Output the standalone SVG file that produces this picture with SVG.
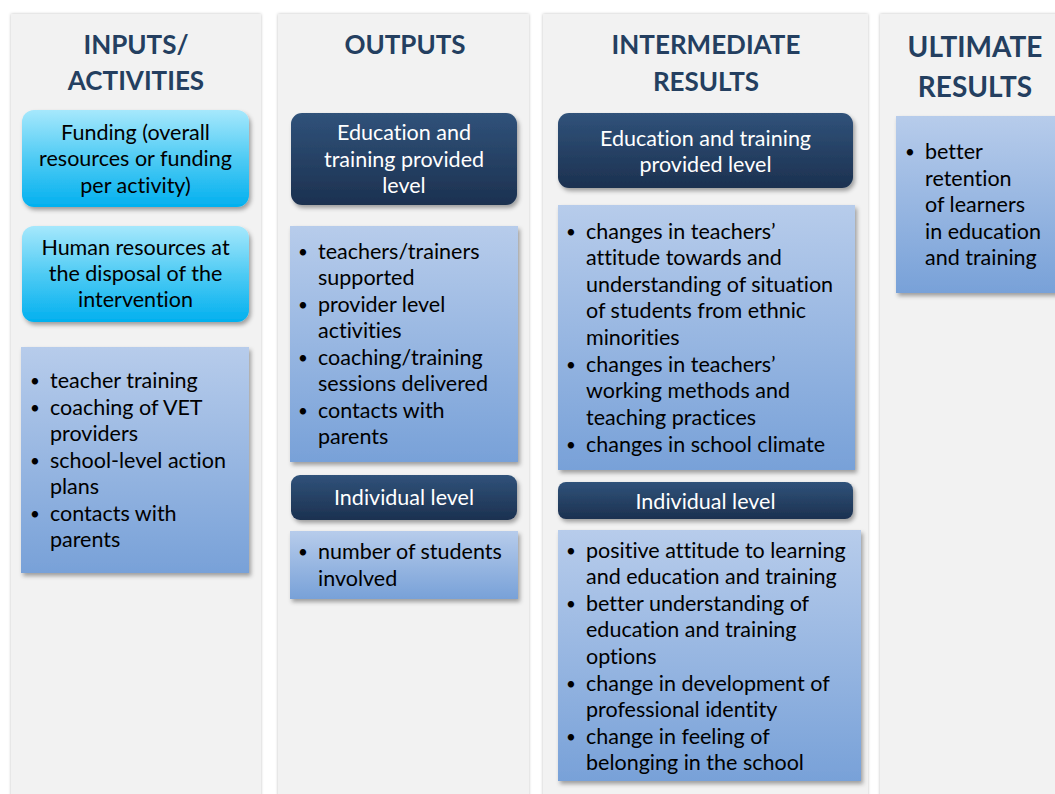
<svg xmlns="http://www.w3.org/2000/svg" width="1055" height="794" viewBox="0 0 1055 794">
<defs>
<linearGradient id="gBullet" x1="0" y1="0" x2="0" y2="1"><stop offset="0" stop-color="#b7cceb"/><stop offset="1" stop-color="#78a1d8"/></linearGradient>
<linearGradient id="gDark" x1="0" y1="0" x2="0" y2="1"><stop offset="0" stop-color="#30527a"/><stop offset="1" stop-color="#1c3150"/></linearGradient>
<linearGradient id="gCyan" x1="0" y1="0" x2="0" y2="1"><stop offset="0" stop-color="#a6e8fc"/><stop offset="0.5" stop-color="#4fcbf4"/><stop offset="1" stop-color="#02b0ef"/></linearGradient>
<filter id="sh" x="-10%" y="-10%" width="130%" height="130%"><feDropShadow dx="2" dy="3" stdDeviation="2" flood-color="#000" flood-opacity="0.35"/></filter>
<filter id="colsh" x="-5%" y="-5%" width="110%" height="110%"><feDropShadow dx="0" dy="0" stdDeviation="1.5" flood-color="#000" flood-opacity="0.25"/></filter>
</defs>
<style>
text{font-variant-ligatures:none}
.col{fill:#f2f2f2;filter:url(#colsh)}
.hd{font-family:Lato,"Liberation Sans",sans-serif;font-weight:bold;font-size:26px;fill:#243f60;text-anchor:middle}
.bl{fill:url(#gBullet);filter:url(#sh)}
.dk{fill:url(#gDark);filter:url(#sh)}
.cy{fill:url(#gCyan);filter:url(#sh)}
.t{font-family:Lato,"Liberation Sans",sans-serif;font-size:21.5px;fill:#000}
.b{font-size:17px}
.w{font-family:Lato,"Liberation Sans",sans-serif;font-size:21.5px;fill:#fff;text-anchor:middle}
.c{font-family:Lato,"Liberation Sans",sans-serif;font-size:21.5px;fill:#000;text-anchor:middle}
</style>
<rect width="1055" height="794" fill="#fff"/>
<g id="columns">
<rect class="col" x="11" y="14" width="250" height="790"/>
<rect class="col" x="278" y="14" width="251" height="790"/>
<rect class="col" x="543" y="14" width="325" height="790"/>
<rect class="col" x="880" y="14" width="185" height="790"/>
</g>
<g id="h-inputs"><text class="hd" x="136" y="54">INPUTS/</text><text class="hd" x="136" y="90">ACTIVITIES</text></g>
<g id="h-outputs"><text class="hd" x="405" y="54">OUTPUTS</text></g>
<g id="h-intermediate"><text class="hd" x="706" y="54">INTERMEDIATE</text><text class="hd" x="706" y="91">RESULTS</text></g>
<g id="h-ultimate"><text class="hd" x="975" y="57" style="font-size:28px">ULTIMATE</text><text class="hd" x="975" y="97" style="font-size:28px">RESULTS</text></g>

<g id="funding">
<rect class="cy" x="22" y="110" width="227" height="97" rx="12"/>
<text class="c" x="135.5" y="140">Funding (overall</text>
<text class="c" x="135.5" y="166">resources or funding</text>
<text class="c" x="135.5" y="193">per activity)</text>
</g>
<g id="human">
<rect class="cy" x="22" y="226" width="227" height="96" rx="12"/>
<text class="c" x="135.5" y="255">Human resources at</text>
<text class="c" x="135.5" y="281">the disposal of the</text>
<text class="c" x="135.5" y="307">intervention</text>
</g>
<g id="activities">
<rect class="bl" x="21" y="347" width="228" height="226"/>
<g class="t">
<text class="b" x="30" y="387">•</text><text x="50" y="388">teacher training</text>
<text class="b" x="30" y="414">•</text><text x="50" y="415">coaching of VET</text>
<text x="50" y="441">providers</text>
<text class="b" x="30" y="467">•</text><text x="50" y="468">school-level action</text>
<text x="50" y="494">plans</text>
<text class="b" x="30" y="520">•</text><text x="50" y="521">contacts with</text>
<text x="50" y="547">parents</text>
</g>
</g>

<g id="out-provided">
<rect class="dk" x="291" y="113" width="226" height="92" rx="11"/>
<text class="w" x="404" y="140">Education and</text>
<text class="w" x="404" y="167">training provided</text>
<text class="w" x="404" y="193">level</text>
</g>
<g id="out-provided-list">
<rect class="bl" x="290" y="226" width="228" height="236"/>
<g class="t">
<text class="b" x="298" y="258">•</text><text x="318" y="259">teachers/trainers</text>
<text x="318" y="285">supported</text>
<text class="b" x="298" y="311">•</text><text x="318" y="312">provider level</text>
<text x="318" y="338">activities</text>
<text class="b" x="298" y="364">•</text><text x="318" y="365">coaching/training</text>
<text x="318" y="391">sessions delivered</text>
<text class="b" x="298" y="417">•</text><text x="318" y="418">contacts with</text>
<text x="318" y="444">parents</text>
</g>
</g>
<g id="out-individual">
<rect class="dk" x="291" y="475" width="226" height="45" rx="9"/>
<text class="w" x="404" y="505">Individual level</text>
</g>
<g id="out-individual-list">
<rect class="bl" x="290" y="531" width="228" height="68"/>
<g class="t">
<text class="b" x="298" y="558">•</text><text x="318" y="559">number of students</text>
<text x="318" y="586">involved</text>
</g>
</g>

<g id="int-provided">
<rect class="dk" x="558" y="113" width="295" height="75" rx="11"/>
<text class="w" x="705.5" y="146">Education and training</text>
<text class="w" x="705.5" y="172">provided level</text>
</g>
<g id="int-provided-list">
<rect class="bl" x="558" y="205" width="297" height="265"/>
<g class="t">
<text class="b" x="566" y="238">•</text><text x="586" y="239">changes in teachers’</text>
<text x="586" y="265">attitude towards and</text>
<text x="586" y="292">understanding of situation</text>
<text x="586" y="318">of students from ethnic</text>
<text x="586" y="345">minorities</text>
<text class="b" x="566" y="371">•</text><text x="586" y="372">changes in teachers’</text>
<text x="586" y="398">working methods and</text>
<text x="586" y="425">teaching practices</text>
<text class="b" x="566" y="451">•</text><text x="586" y="452">changes in school climate</text>
</g>
</g>
<g id="int-individual">
<rect class="dk" x="558" y="482" width="295" height="37" rx="8"/>
<text class="w" x="705.5" y="509">Individual level</text>
</g>
<g id="int-individual-list">
<rect class="bl" x="558" y="530" width="303" height="251"/>
<g class="t">
<text class="b" x="566" y="557">•</text><text x="586" y="558">positive attitude to learning</text>
<text x="586" y="584">and education and training</text>
<text class="b" x="566" y="610">•</text><text x="586" y="611">better understanding of</text>
<text x="586" y="637">education and training</text>
<text x="586" y="664">options</text>
<text class="b" x="566" y="690">•</text><text x="586" y="691">change in development of</text>
<text x="586" y="717">professional identity</text>
<text class="b" x="566" y="743">•</text><text x="586" y="744">change in feeling of</text>
<text x="586" y="770">belonging in the school</text>
</g>
</g>

<g id="ultimate-list">
<rect class="bl" x="896" y="116" width="170" height="177"/>
<g class="t">
<text class="b" x="905" y="158">•</text><text x="925" y="159">better</text>
<text x="925" y="186">retention</text>
<text x="925" y="212">of learners</text>
<text x="925" y="239">in education</text>
<text x="925" y="265">and training</text>
</g>
</g>
</svg>
